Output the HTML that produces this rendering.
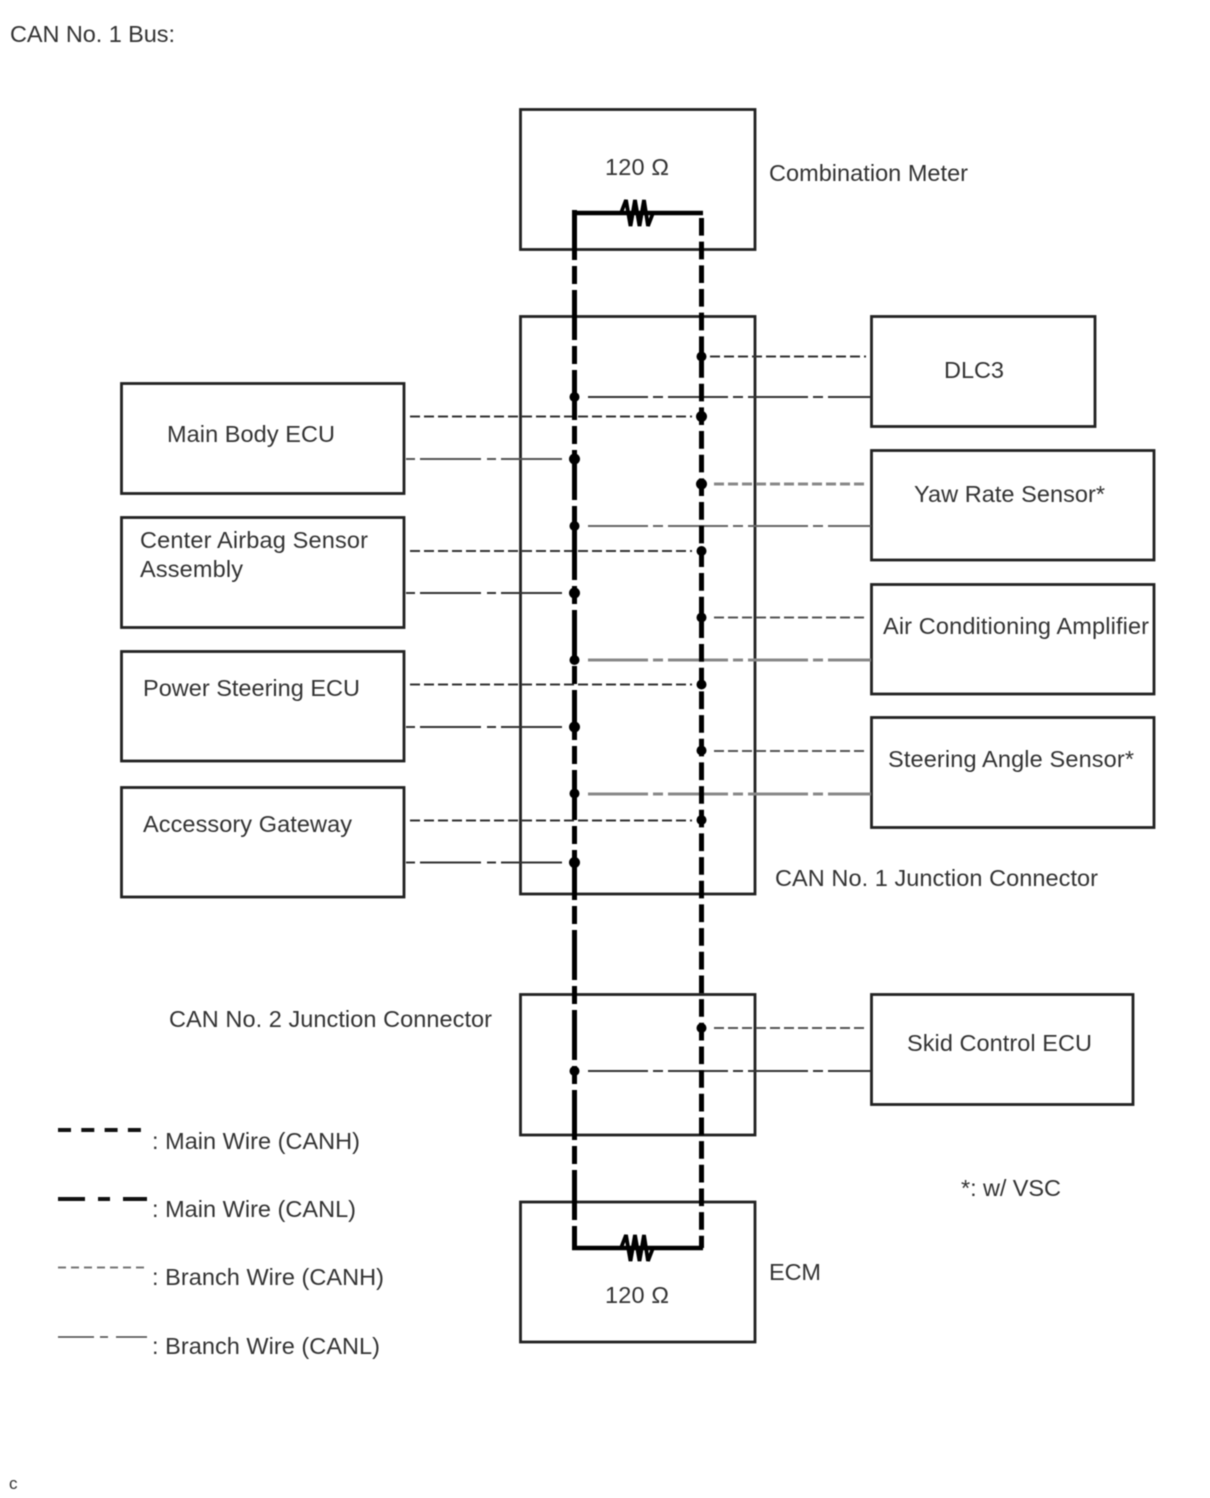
<!DOCTYPE html>
<html>
<head>
<meta charset="utf-8">
<style>
html,body{margin:0;padding:0;background:#fff;}
svg{display:block;filter:blur(0.45px);}
text{font-family:"Liberation Sans",Arial,sans-serif;font-size:23.5px;fill:#333;}
.box{fill:none;stroke:#222;stroke-width:2.8;}
</style>
</head>
<body>
<svg width="1210" height="1498" viewBox="0 0 1210 1498" xmlns="http://www.w3.org/2000/svg">
<rect width="1210" height="1498" fill="#fff"/>

<!-- boxes -->
<rect class="box" x="520.5" y="109.5" width="234.5" height="140"/>
<rect class="box" x="520.5" y="316.5" width="234.5" height="577.5"/>
<rect class="box" x="520.5" y="994.5" width="234.5" height="140.5"/>
<rect class="box" x="520.5" y="1202" width="234.5" height="140"/>
<rect class="box" x="121.5" y="383.5" width="282.5" height="110"/>
<rect class="box" x="121.5" y="517.5" width="282.5" height="110"/>
<rect class="box" x="121.5" y="651.5" width="282.5" height="109.5"/>
<rect class="box" x="121.5" y="787.5" width="282.5" height="109.5"/>
<rect class="box" x="871.5" y="316.5" width="223.5" height="110"/>
<rect class="box" x="871.5" y="450.5" width="282.5" height="109.5"/>
<rect class="box" x="871.5" y="584.5" width="282.5" height="109.5"/>
<rect class="box" x="871.5" y="717.5" width="282.5" height="110"/>
<rect class="box" x="871.5" y="994.5" width="261.5" height="110"/>

<!-- branch CANH -->
<g fill="none" stroke-dasharray="10 4" stroke-width="2" stroke="#333">
<path d="M710 356.5H866"/>
<path d="M410 416.5H692"/>
<path d="M714 484H866" stroke="#888" stroke-width="3"/>
<path d="M410 551H692"/>
<path d="M714 617.5H866" stroke="#555"/>
<path d="M410 684.5H692"/>
<path d="M714 751H866" stroke="#555"/>
<path d="M410 820.5H692"/>
<path d="M714 1028H866" stroke="#555"/>
</g>

<!-- branch CANL right side -->
<g fill="none" stroke-dasharray="60 5 10 5" stroke-width="2" stroke="#333">
<path d="M588 397H871"/>
<path d="M588 526H871" stroke="#666"/>
<path d="M588 660H871" stroke="#888" stroke-width="3"/>
<path d="M588 794H871" stroke="#888" stroke-width="3"/>
<path d="M588 1071H871"/>
</g>
<!-- branch CANL left side -->
<g fill="none" stroke-dasharray="61 5 9 6" stroke-width="2" stroke="#333">
<path d="M562 459H404" stroke="#555"/>
<path d="M562 593H404"/>
<path d="M562 727H404"/>
<path d="M562 862.5H404"/>
</g>

<!-- main wires -->
<path d="M574.5 210V1248" fill="none" stroke="#000" stroke-width="5" stroke-dasharray="50 6 18 6"/>
<path d="M701.5 218V1248" fill="none" stroke="#000" stroke-width="5" stroke-dasharray="17.67 6"/>
<path d="M572 213H703M572 1248H703" fill="none" stroke="#000" stroke-width="4.5"/>
<path d="M574.5 211V260M574.5 1229V1250" fill="none" stroke="#000" stroke-width="5"/>

<!-- resistors -->
<g fill="none" stroke="#000" stroke-width="3.8" stroke-linejoin="miter" stroke-miterlimit="3">
<path d="M621 213L626 200L630.5 226L635 200L639.5 226L644 200L648 226L653 213"/>
<path d="M621 1248L626 1235L630.5 1261L635 1235L639.5 1261L644 1235L648 1261L653 1248"/>
</g>

<!-- dots -->
<g fill="#000">
<circle cx="701.5" cy="356.5" r="5"/>
<circle cx="574.5" cy="397" r="5"/>
<circle cx="701.5" cy="416.5" r="5.5"/>
<circle cx="574.5" cy="459" r="5.5"/>
<circle cx="701.5" cy="484" r="5.5"/>
<circle cx="574.5" cy="526" r="5"/>
<circle cx="701.5" cy="551" r="5"/>
<circle cx="574.5" cy="593" r="5.5"/>
<circle cx="701.5" cy="617.5" r="5"/>
<circle cx="574.5" cy="660" r="5"/>
<circle cx="701.5" cy="684.5" r="5"/>
<circle cx="574.5" cy="727" r="5.5"/>
<circle cx="701.5" cy="750.5" r="5"/>
<circle cx="574.5" cy="793.5" r="5"/>
<circle cx="701.5" cy="820" r="5"/>
<circle cx="574.5" cy="862.5" r="5.5"/>
<circle cx="701.5" cy="1028" r="5"/>
<circle cx="574.5" cy="1071" r="5"/>
</g>

<!-- legend lines -->
<path d="M58 1130H142" fill="none" stroke="#111" stroke-width="4" stroke-dasharray="13 10.3"/>
<path d="M58 1199H147" fill="none" stroke="#111" stroke-width="4" stroke-dasharray="27 13 12 13"/>
<path d="M58 1267.5H148" fill="none" stroke="#777" stroke-width="2" stroke-dasharray="8 5"/>
<path d="M58 1337H94M100 1337H108M116 1337H147" fill="none" stroke="#444" stroke-width="1.5"/>

<!-- labels -->
<text x="10" y="42" textLength="165">CAN No. 1 Bus:</text>
<text x="605" y="175" textLength="64">120 Ω</text>
<text x="769" y="181" textLength="199">Combination Meter</text>
<text x="944" y="378" textLength="60">DLC3</text>
<text x="167" y="442" textLength="168">Main Body ECU</text>
<text x="914" y="502" textLength="191">Yaw Rate Sensor*</text>
<text x="140" y="548" textLength="228">Center Airbag Sensor</text>
<text x="140" y="577" textLength="103">Assembly</text>
<text x="883" y="634" textLength="266">Air Conditioning Amplifier</text>
<text x="143" y="696" textLength="217">Power Steering ECU</text>
<text x="888" y="767" textLength="246">Steering Angle Sensor*</text>
<text x="143" y="832" textLength="209">Accessory Gateway</text>
<text x="775" y="886" textLength="323">CAN No. 1 Junction Connector</text>
<text x="169" y="1027" textLength="323">CAN No. 2 Junction Connector</text>
<text x="907" y="1051" textLength="185">Skid Control ECU</text>
<text x="961" y="1196" textLength="100">*: w/ VSC</text>
<text x="769" y="1280" textLength="52">ECM</text>
<text x="605" y="1303" textLength="64">120 Ω</text>
<text x="152" y="1149" textLength="208">: Main Wire (CANH)</text>
<text x="152" y="1217" textLength="204">: Main Wire (CANL)</text>
<text x="152" y="1285" textLength="232">: Branch Wire (CANH)</text>
<text x="152" y="1354" textLength="228">: Branch Wire (CANL)</text>
<text x="9" y="1489" style="font-size:17px">c</text>
</svg>
</body>
</html>
